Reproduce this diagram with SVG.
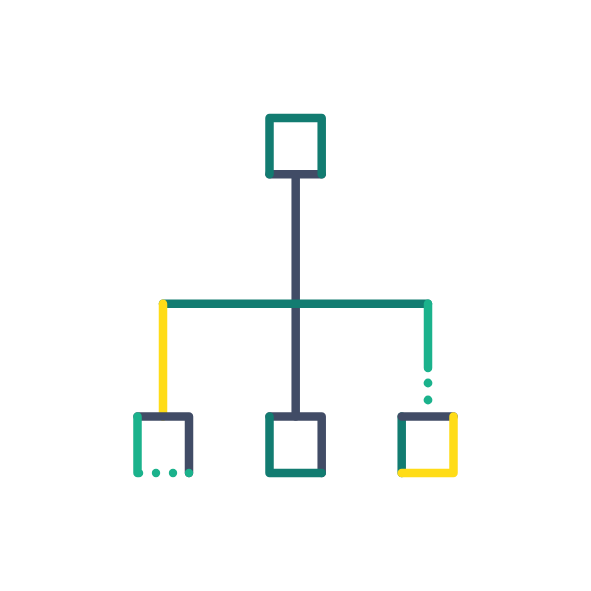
<svg xmlns="http://www.w3.org/2000/svg" width="591" height="591" viewBox="0 0 591 591">
<style>
.l{fill:none;stroke-width:8.5;stroke-linecap:round;stroke-linejoin:round}
.n{stroke:#414c66}.t{stroke:#127c71}.g{stroke:#1bb28c}.y{stroke:#ffdc17}
.d{fill:#1bb28c}
</style>
<rect width="591" height="591" fill="#fff"/>
<g id="connectors">
<path class="l n" d="M295.7 174.3V416.4"/>
<path class="l t" d="M163 303.7H428"/>
<path class="l y" d="M163 303.7V416.4"/>
<path class="l g" d="M428 303.7V368"/>
<circle class="d" cx="428" cy="383" r="4.4"/>
<circle class="d" cx="428" cy="400" r="4.4"/>
</g>
<g id="node-top">
<path class="l n" d="M269.5 174.3H321.7"/>
<path class="l t" d="M269.5 174.3V118H321.7V174.3"/>
</g>
<g id="node-left">
<path class="l n" d="M137.5 416.4H189V473"/>
<path class="l g" d="M137.5 416.4V473H139"/>
<circle class="d" cx="156" cy="473" r="4.2"/>
<circle class="d" cx="173" cy="473" r="4.2"/>
<circle class="d" cx="189" cy="473" r="4.2"/>
</g>
<g id="node-middle">
<path class="l n" d="M269.5 416.4H321.7V473"/>
<path class="l t" d="M269.5 416.4V473H321.7"/>
</g>
<g id="node-right">
<path class="l t" d="M401.7 416.4V473"/>
<path class="l n" d="M401.7 416.4H453.5"/>
<path class="l y" d="M453.5 416.4V473H401.7"/>
</g>
</svg>
